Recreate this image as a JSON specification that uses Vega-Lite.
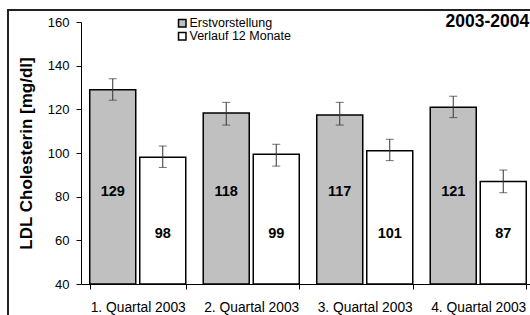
{
  "$schema": "https://vega.github.io/schema/vega-lite/v6.json",
  "width": 524,
  "height": 307,
  "autosize": {"type": "none"},
  "padding": {"left": 8, "top": 10, "right": -2, "bottom": -2},
  "background": "white",
  "config": {
    "font": "Liberation Sans",
    "view": {"stroke": "#222222", "strokeWidth": 2},
    "axis": {"labelColor": "black", "titleColor": "black", "domainColor": "black", "tickColor": "black", "labelFont": "Liberation Sans", "titleFont": "Liberation Sans", "grid": false}
  },
  "data": {
    "values": [
      {"quarter": "1. Quartal 2003", "series": "Erstvorstellung", "value": 129, "lo": 124.2, "hi": 134},
      {"quarter": "1. Quartal 2003", "series": "Verlauf 12 Monate", "value": 98, "lo": 93.4, "hi": 103.2},
      {"quarter": "2. Quartal 2003", "series": "Erstvorstellung", "value": 118.3, "lo": 112.8, "hi": 123.2},
      {"quarter": "2. Quartal 2003", "series": "Verlauf 12 Monate", "value": 99.4, "lo": 94, "hi": 104},
      {"quarter": "3. Quartal 2003", "series": "Erstvorstellung", "value": 117.4, "lo": 112.8, "hi": 123.2},
      {"quarter": "3. Quartal 2003", "series": "Verlauf 12 Monate", "value": 101, "lo": 96.5, "hi": 106.3},
      {"quarter": "4. Quartal 2003", "series": "Erstvorstellung", "value": 121, "lo": 116.2, "hi": 126},
      {"quarter": "4. Quartal 2003", "series": "Verlauf 12 Monate", "value": 87, "lo": 81.8, "hi": 92.2}
    ]
  },
  "layer": [
    {
      "mark": {"type": "bar", "stroke": "black", "strokeWidth": 1.5},
      "encoding": {
        "x": {"field": "quarter", "type": "nominal", "sort": null, "title": null,
          "scale": {"range": [73, 527], "paddingInner": 0.154, "paddingOuter": 0.077},
          "axis": {"orient": "bottom", "offset": -33, "tickBand": "extent", "tickSize": 5, "labelFontSize": 13.8, "labelPadding": 11, "labelAngle": 0, "domainWidth": 1}},
        "xOffset": {"field": "series", "type": "nominal", "sort": null, "scale": {"paddingInner": 0.08, "paddingOuter": 0}},
        "y": {"field": "value", "type": "quantitative", "title": "LDL Cholesterin [mg/dl]",
          "scale": {"domain": [40, 160], "range": [274, 12], "zero": false, "nice": false},
          "axis": {"orient": "left", "offset": -73, "values": [40, 60, 80, 100, 120, 140, 160], "tickSize": 5, "labelFontSize": 13, "labelPadding": 7, "titleFontSize": 17, "titleFontWeight": "bold", "titlePadding": 12, "domainWidth": 1}},
        "y2": {"datum": 40},
        "fill": {"field": "series", "type": "nominal", "sort": null,
          "scale": {"domain": ["Erstvorstellung", "Verlauf 12 Monate"], "range": ["#c0c0c0", "#ffffff"]},
          "legend": {"orient": "none", "legendX": 168, "legendY": 7, "title": null, "direction": "vertical", "symbolType": "square", "symbolSize": 56, "symbolStrokeColor": "black", "symbolStrokeWidth": 1.5, "labelFontSize": 12.5, "labelColor": "black", "labelFont": "Liberation Sans", "labelOffset": 1, "rowPadding": -4, "padding": 0}}
      }
    },
    {
      "mark": {"type": "rule", "color": "#333333", "strokeWidth": 1},
      "encoding": {
        "x": {"field": "quarter", "type": "nominal", "sort": null, "title": null},
        "xOffset": {"field": "series", "type": "nominal", "sort": null},
        "y": {"field": "lo", "type": "quantitative", "title": "LDL Cholesterin [mg/dl]"},
        "y2": {"field": "hi"}
      }
    },
    {
      "mark": {"type": "tick", "color": "#333333", "thickness": 1, "size": 8},
      "encoding": {
        "x": {"field": "quarter", "type": "nominal", "sort": null, "title": null},
        "xOffset": {"field": "series", "type": "nominal", "sort": null},
        "y": {"field": "lo", "type": "quantitative", "title": "LDL Cholesterin [mg/dl]"}
      }
    },
    {
      "mark": {"type": "tick", "color": "#333333", "thickness": 1, "size": 8},
      "encoding": {
        "x": {"field": "quarter", "type": "nominal", "sort": null, "title": null},
        "xOffset": {"field": "series", "type": "nominal", "sort": null},
        "y": {"field": "hi", "type": "quantitative", "title": "LDL Cholesterin [mg/dl]"}
      }
    },
    {
      "transform": [{"filter": "datum.series === 'Erstvorstellung'"}],
      "mark": {"type": "text", "fontWeight": "bold", "fontSize": 14.5, "color": "black", "baseline": "middle"},
      "encoding": {
        "x": {"field": "quarter", "type": "nominal", "sort": null, "title": null},
        "xOffset": {"field": "series", "type": "nominal", "sort": null},
        "y": {"datum": 82, "type": "quantitative", "title": "LDL Cholesterin [mg/dl]"},
        "text": {"field": "value", "type": "quantitative", "format": ".0f"}
      }
    },
    {
      "transform": [{"filter": "datum.series === 'Verlauf 12 Monate'"}],
      "mark": {"type": "text", "fontWeight": "bold", "fontSize": 14.5, "color": "black", "baseline": "middle"},
      "encoding": {
        "x": {"field": "quarter", "type": "nominal", "sort": null, "title": null},
        "xOffset": {"field": "series", "type": "nominal", "sort": null},
        "y": {"datum": 63, "type": "quantitative", "title": "LDL Cholesterin [mg/dl]"},
        "text": {"field": "value", "type": "quantitative", "format": ".0f"}
      }
    },
    {
      "data": {"values": [{"label": "2003-2004", "quarter": "4. Quartal 2003", "pos": 157.5}]},
      "mark": {"type": "text", "fontWeight": "bold", "fontSize": 17.5, "color": "black", "align": "right", "baseline": "alphabetic", "dx": 3},
      "encoding": {
        "x": {"field": "quarter", "type": "nominal", "title": null, "bandPosition": 1},
        "y": {"field": "pos", "type": "quantitative", "title": "LDL Cholesterin [mg/dl]"},
        "text": {"field": "label"}
      }
    }
  ]
}
